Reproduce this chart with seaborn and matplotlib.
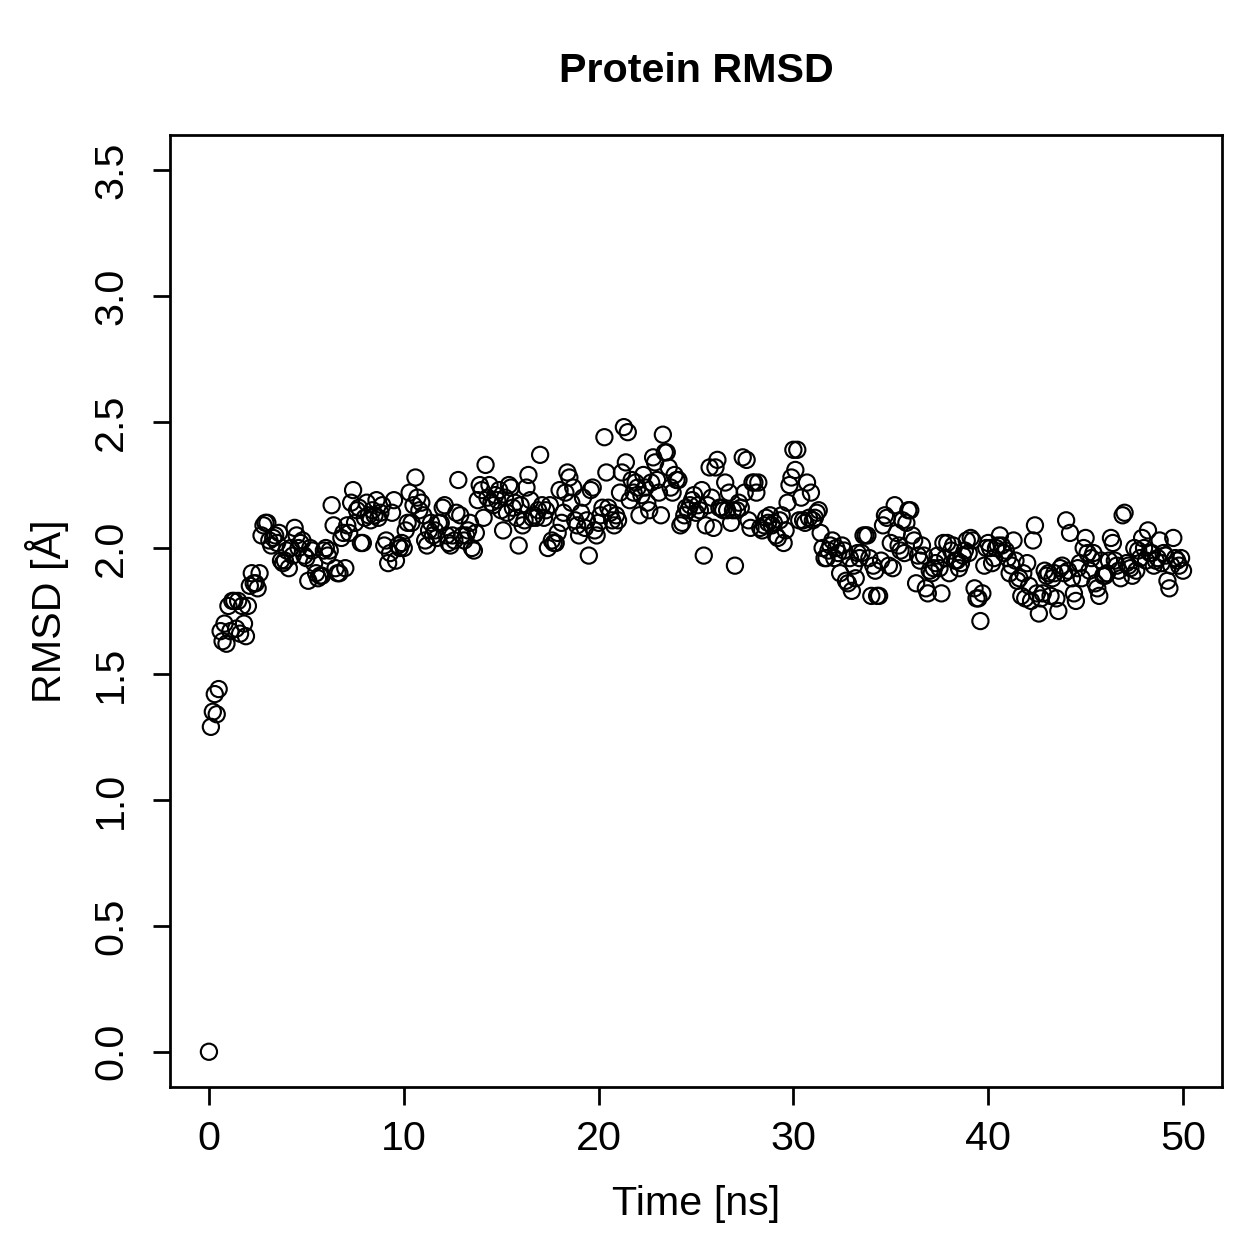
import numpy as np
import pandas as pd
import matplotlib
matplotlib.use("Agg")
import matplotlib.pyplot as plt
import seaborn as sns

time_ns = [round(i * 0.1, 1) for i in range(501)]

rmsd = [
    0.00, 1.29, 1.35, 1.42, 1.34, 1.44, 1.67, 1.63, 1.70, 1.62,
    1.77, 1.67, 1.79, 1.79, 1.68, 1.79, 1.66, 1.77, 1.70, 1.65,
    1.77, 1.85, 1.90, 1.86, 1.86, 1.84, 1.90, 2.05, 2.09, 2.10,
    2.10, 2.03, 2.01, 2.04, 2.05, 2.02, 2.06, 1.95, 1.94, 1.95,
    1.99, 1.92, 2.00, 1.97, 2.08, 2.05, 2.00, 2.02, 2.03, 1.97,
    1.96, 1.87, 2.00, 1.99, 1.94, 1.90, 1.88, 1.89, 1.89, 1.99,
    2.00, 1.97, 1.99, 2.17, 2.09, 1.92, 1.90, 1.90, 2.04, 2.06,
    1.92, 2.09, 2.06, 2.18, 2.23, 2.10, 2.15, 2.16, 2.02, 2.02,
    2.12, 2.18, 2.13, 2.11, 2.15, 2.13, 2.19, 2.12, 2.14, 2.17,
    2.01, 2.03, 1.94, 1.98, 2.14, 2.19, 1.95, 2.01, 2.00, 2.02,
    2.00, 2.07, 2.10, 2.22, 2.10, 2.17, 2.28, 2.20, 2.15, 2.18,
    2.13, 2.03, 2.01, 2.07, 2.10, 2.05, 2.07, 2.04, 2.10, 2.10,
    2.16, 2.17, 2.05, 2.02, 2.01, 2.05, 2.03, 2.14, 2.27, 2.13,
    2.05, 2.03, 2.05, 2.07, 2.10, 2.00, 1.99, 2.06, 2.19, 2.25,
    2.23, 2.12, 2.33, 2.20, 2.25, 2.18, 2.17, 2.21, 2.19, 2.23,
    2.15, 2.07, 2.20, 2.14, 2.25, 2.24, 2.16, 2.18, 2.12, 2.01,
    2.17, 2.09, 2.11, 2.24, 2.29, 2.19, 2.12, 2.13, 2.12, 2.15,
    2.37, 2.17, 2.12, 2.15, 2.00, 2.17, 2.03, 2.02, 2.02, 2.06,
    2.23, 2.10, 2.14, 2.22, 2.30, 2.28, 2.18, 2.24, 2.11, 2.09,
    2.05, 2.14, 2.20, 2.08, 2.11, 1.97, 2.23, 2.24, 2.07, 2.05,
    2.10, 2.13, 2.16, 2.44, 2.30, 2.16, 2.14, 2.11, 2.09, 2.13,
    2.11, 2.22, 2.30, 2.48, 2.34, 2.46, 2.19, 2.27, 2.22, 2.26,
    2.24, 2.13, 2.21, 2.29, 2.24, 2.18, 2.15, 2.26, 2.36, 2.34,
    2.27, 2.22, 2.13, 2.45, 2.38, 2.38, 2.32, 2.24, 2.22, 2.29,
    2.27, 2.27, 2.09, 2.10, 2.13, 2.16, 2.15, 2.17, 2.19, 2.21,
    2.14, 2.17, 2.15, 2.23, 1.97, 2.09, 2.17, 2.32, 2.20, 2.08,
    2.32, 2.35, 2.16, 2.16, 2.15, 2.26, 2.15, 2.22, 2.10, 2.15,
    1.93, 2.15, 2.18, 2.16, 2.36, 2.22, 2.35, 2.11, 2.08, 2.26,
    2.26, 2.22, 2.26, 2.08, 2.07, 2.09, 2.12, 2.10, 2.13, 2.09,
    2.10, 2.05, 2.04, 2.11, 2.13, 2.02, 2.07, 2.18, 2.25, 2.28,
    2.39, 2.31, 2.39, 2.11, 2.20, 2.11, 2.10, 2.26, 2.12, 2.22,
    2.11, 2.12, 2.14, 2.15, 2.06, 2.00, 1.96, 1.96, 1.99, 2.01,
    2.03, 1.96, 2.00, 1.98, 1.90, 2.01, 1.99, 1.87, 1.86, 1.96,
    1.83, 1.93, 1.88, 1.98, 1.96, 1.98, 2.05, 2.05, 2.05, 1.96,
    1.81, 1.93, 1.91, 1.81, 1.81, 1.95, 2.09, 2.13, 2.12, 1.93,
    2.02, 1.92, 2.17, 2.06, 2.01, 1.99, 2.11, 1.98, 2.10, 2.15,
    2.15, 2.05, 2.03, 1.86, 1.97, 1.95, 2.01, 1.97, 1.84, 1.82,
    1.91, 1.90, 1.92, 1.94, 1.97, 1.92, 1.82, 2.02, 1.96, 2.02,
    1.90, 1.99, 2.01, 1.95, 1.95, 1.92, 1.94, 1.97, 1.99, 2.03,
    1.98, 2.04, 2.03, 1.84, 1.80, 1.80, 1.71, 1.82, 1.93, 2.00,
    2.02, 2.00, 1.94, 1.96, 2.00, 2.01, 2.05, 2.01, 1.98, 1.99,
    1.96, 1.90, 1.93, 2.03, 1.95, 1.87, 1.88, 1.81, 1.90, 1.80,
    1.94, 1.85, 1.79, 2.03, 2.09, 1.82, 1.74, 1.80, 1.82, 1.91,
    1.89, 1.90, 1.81, 1.88, 1.90, 1.80, 1.75, 1.92, 1.93, 1.90,
    2.11, 1.91, 2.06, 1.88, 1.82, 1.79, 1.92, 1.94, 1.88, 2.00,
    2.04, 1.98, 1.91, 1.96, 1.98, 1.86, 1.84, 1.81, 1.95, 1.89,
    1.89, 1.90, 1.95, 2.04, 2.02, 1.95, 1.93, 1.91, 1.88, 2.13,
    2.14, 1.94, 1.93, 1.92, 1.89, 2.00, 1.91, 1.99, 1.96, 2.04,
    2.00, 1.95, 2.07, 1.98, 1.98, 1.93, 1.95, 1.96, 2.03, 1.94,
    1.98, 1.97, 1.87, 1.84, 1.93, 2.04, 1.96, 1.95, 1.93, 1.96,
    1.91,
]

x_ticks = [0, 10, 20, 30, 40, 50]
y_ticks = [0.0, 0.5, 1.0, 1.5, 2.0, 2.5, 3.0, 3.5]

sns.set_style("ticks")
plt.rcParams['font.family'] = ['Liberation Sans', 'DejaVu Sans']
plt.rcParams['text.color'] = 'black'
plt.rcParams['axes.labelcolor'] = 'black'

df = pd.DataFrame({"time": time_ns, "rmsd": rmsd})

fig = plt.figure(figsize=(1259 / 180, 1259 / 180), dpi=180)
ax = fig.add_axes([0.135, 0.1366, 0.8356, 0.7562])

sns.scatterplot(data=df, x="time", y="rmsd", ax=ax, s=42,
                facecolor="none", edgecolor="black", linewidth=0.85,
                marker="o", legend=False)

ax.set_xlim(-2, 52)
ax.set_ylim(-0.14, 3.64)
ax.set_xticks(x_ticks)
ax.set_xticklabels([str(t) for t in x_ticks])
ax.set_yticks(y_ticks)
ax.set_yticklabels([f"{t:.1f}" for t in y_ticks], rotation=90, va="center")

for sp in ax.spines.values():
    sp.set_linewidth(1.1)
    sp.set_color("black")
ax.tick_params(axis="both", direction="out", length=7, width=1.1,
               labelsize=16.5, colors="black")
ax.tick_params(axis="x", pad=6)
ax.tick_params(axis="y", pad=9)

ax.set_xlabel("Time [ns]", fontsize=16.5, labelpad=11, color="black")
ax.set_ylabel("RMSD [Å]", fontsize=16.5, labelpad=9, color="black")
ax.set_title("Protein RMSD", fontsize=16.5, fontweight="bold", pad=21,
             color="black")

fig.savefig("out.png", dpi=180)
